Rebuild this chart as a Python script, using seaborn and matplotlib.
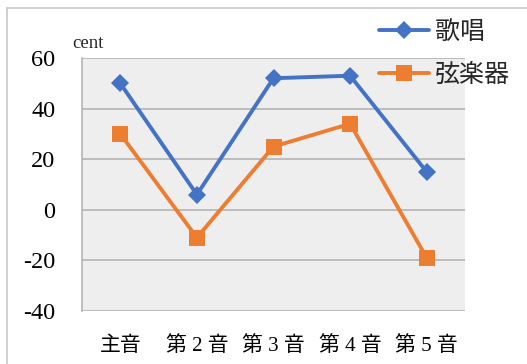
import matplotlib
matplotlib.use("Agg")
import matplotlib.pyplot as plt
import seaborn as sns
import pandas as pd

categories = ["主音", "第 2 音", "第 3 音", "第 4 音", "第 5 音"]
singing = [50, 6, 52, 53, 15]
strings = [30, -11, 25, 34, -19]
series_names = ["歌唱", "弦楽器"]
y_ticks = [-40, -20, 0, 20, 40, 60]

sns.set_theme(style="white")
plt.rcParams["font.family"] = ["Liberation Serif", "Noto Sans CJK JP"]

df = pd.DataFrame({
    "pos": list(range(len(categories))) * 2,
    "value": singing + strings,
    "series": [series_names[0]] * len(categories) + [series_names[1]] * len(categories),
})

W, H = 527, 364
fig = plt.figure(figsize=(W / 100, H / 100), dpi=100)
fig.patch.set_facecolor("white")

# outer chart frame (top and left edges visible)
fig.add_artist(plt.Line2D([7 / W, 7 / W], [0, 1 - 8 / H], color="#c8c8c8", lw=1.2))
fig.add_artist(plt.Line2D([7 / W, 1], [1 - 8 / H, 1 - 8 / H], color="#c8c8c8", lw=1.2))

left, right, top, bottom = 82, 465, 58, 311
ax = fig.add_axes([left / W, 1 - bottom / H, (right - left) / W, (bottom - top) / H])
ax.set_facecolor("#eeeeee")

palette = {"歌唱": "#4472C4", "弦楽器": "#ED7D31"}
markers = {"歌唱": "D", "弦楽器": "s"}
sizes = [9.5, 11]
sns.lineplot(data=df, x="pos", y="value", hue="series", style="series",
             palette=palette, markers=markers, dashes=False, linewidth=2.8,
             markersize=10, markeredgewidth=0, ax=ax, legend=False)
for line, ms in zip(ax.lines, sizes):
    line.set_markersize(ms)

ax.set_xlim(-0.5, len(categories) - 0.5)
ax.set_ylim(-40, 60)
ax.set_yticks(y_ticks)
ax.set_yticklabels([str(v) for v in y_ticks], fontsize=17.5)
ax.set_xticks(range(len(categories)))
ax.set_xticklabels(categories, fontsize=15)
ax.grid(axis="y", color="#b4b4b4", lw=1.2)
ax.set_axisbelow(True)
for s in ["top", "right", "bottom"]:
    ax.spines[s].set_visible(False)
ax.spines["left"].set_color("#b4b4b4")
ax.spines["left"].set_linewidth(1.2)
ax.tick_params(axis="y", length=10, color="#b4b4b4", width=1.2, pad=9, labelcolor="black")
ax.tick_params(axis="x", length=0, pad=18, labelcolor="black")
ax.set_xlabel("")
ax.set_ylabel("")

fig.text(72 / W, 1 - 44 / H, "cent", fontsize=13.5, va="center", ha="left")

handles = [plt.Line2D([], [], color=palette[n], marker=markers[n], lw=2.8,
                      markersize=ms, markeredgewidth=0)
           for n, ms in zip(series_names, sizes)]
fig.legend(handles, series_names, loc="upper left",
           bbox_to_anchor=(356 / W, 1 + 4 / H), frameon=False,
           handlelength=2.0, labelspacing=0.7, handletextpad=0.25,
           prop={"family": ["Noto Sans CJK JP"], "size": 18})

fig.savefig("out.png", dpi=100, facecolor="white")
